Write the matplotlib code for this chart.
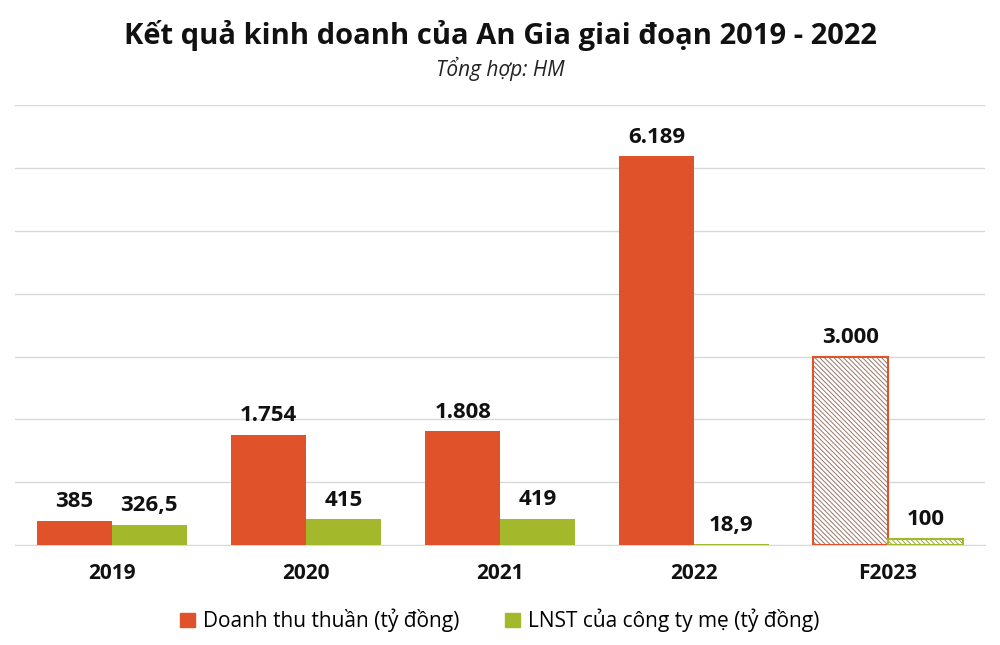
import matplotlib
matplotlib.use("Agg")
import matplotlib.pyplot as plt
import numpy as np
from matplotlib.patches import Patch

plt.rcParams['font.family'] = ['Open Sans', 'DejaVu Sans']
plt.rcParams['hatch.linewidth'] = 0.7

categories = ["2019", "2020", "2021", "2022", "F2023"]
revenue = [385, 1754, 1808, 6189, 3000]
profit = [326.5, 415, 419, 18.9, 100]
revenue_labels = ["385", "1.754", "1.808", "6.189", "3.000"]
profit_labels = ["326,5", "415", "419", "18,9", "100"]
forecast = [False, False, False, False, True]

orange = "#E0532A"
green = "#A4B82C"
hatch_orange = "#9A7668"
hatch_green = "#9AAA3A"

fig = plt.figure(figsize=(10, 6.45), dpi=100)
ax = fig.add_axes([0.015, 0.155, 0.97, 0.682])

x = np.arange(len(categories))
w = 0.385
hatch = "\\" * 7
for i in range(len(categories)):
    if forecast[i]:
        ax.bar(x[i] - w/2, revenue[i], w, facecolor="white", edgecolor=hatch_orange,
               hatch=hatch, linewidth=0, zorder=3)
        ax.bar(x[i] - w/2, revenue[i], w, facecolor="none", edgecolor=orange,
               linewidth=1.5, zorder=4)
        ax.bar(x[i] + w/2, profit[i], w, facecolor="white", edgecolor=hatch_green,
               hatch=hatch, linewidth=0, zorder=3)
        ax.bar(x[i] + w/2, profit[i], w, facecolor="none", edgecolor=green,
               linewidth=1.5, zorder=4)
    else:
        ax.bar(x[i] - w/2, revenue[i], w, color=orange, zorder=3)
        ax.bar(x[i] + w/2, profit[i], w, color=green, zorder=3)
    ax.annotate(revenue_labels[i], (x[i] - w/2, revenue[i]), xytext=(0, 6),
                textcoords="offset points", ha="center", va="bottom",
                fontsize=16, fontweight="bold", color="#111111")
    ax.annotate(profit_labels[i], (x[i] + w/2, profit[i]), xytext=(0, 6),
                textcoords="offset points", ha="center", va="bottom",
                fontsize=16, fontweight="bold", color="#111111")

ax.set_xlim(-0.5, len(categories) - 0.5)
ax.set_ylim(0, 7000)
ax.set_yticks(np.arange(0, 7001, 1000))
ax.yaxis.grid(True, color="#d9d9d9", linewidth=1, zorder=0)
ax.set_axisbelow(True)
ax.tick_params(axis="y", left=False, labelleft=False)
ax.tick_params(axis="x", length=0, pad=13)
ax.set_xticks(x)
ax.set_xticklabels(categories, fontsize=15, fontweight="bold", color="#111111")
for s in ["left", "right", "top"]:
    ax.spines[s].set_visible(False)
ax.spines["bottom"].set_color("#d9d9d9")

fig.text(0.5, 0.945, "Kết quả kinh doanh của An Gia giai đoạn 2019 - 2022",
         ha="center", va="center", fontsize=21, fontweight="bold", color="#111111")
fig.text(0.5, 0.893, "Tổng hợp: HM", ha="center", va="center", fontsize=15,
         style="italic", color="#222222")

handles = [Patch(color=orange, label="Doanh thu thuần (tỷ đồng)"),
           Patch(color=green, label="LNST của công ty mẹ (tỷ đồng)")]
fig.legend(handles=handles, loc="center", bbox_to_anchor=(0.5, 0.038), ncol=2,
           frameon=False, fontsize=15, handlelength=0.7, handleheight=0.7,
           handletextpad=0.4, columnspacing=2.2)

fig.savefig("out.png", dpi=100)
